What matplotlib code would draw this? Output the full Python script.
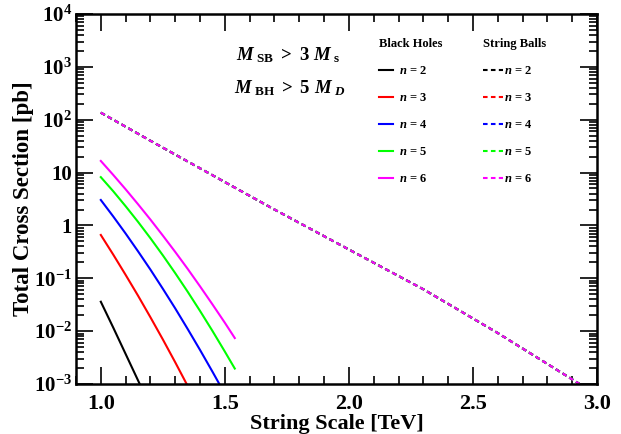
import numpy as np
import matplotlib
matplotlib.use("Agg")
import matplotlib.pyplot as plt
from matplotlib.ticker import FixedLocator, MultipleLocator, LogLocator, NullFormatter

# string scale [TeV] and cross sections [pb]
bh_x = {
    2: [1.0, 1.05, 1.1, 1.15, 1.2],
    3: [1.0, 1.05, 1.1, 1.15, 1.2, 1.25, 1.3, 1.35],
    4: [1.0, 1.05, 1.1, 1.15, 1.2, 1.25, 1.3, 1.35, 1.4, 1.45, 1.5],
    5: [1.0, 1.05, 1.1, 1.15, 1.2, 1.25, 1.3, 1.35, 1.4, 1.45, 1.5, 1.54],
    6: [1.0, 1.05, 1.1, 1.15, 1.2, 1.25, 1.3, 1.35, 1.4, 1.45, 1.5, 1.54],
}
bh_y = {
    2: [0.036, 0.0117, 0.0037, 0.00117, 0.00037],
    3: [0.66, 0.281, 0.116, 0.0469, 0.0183, 0.00697, 0.00257, 0.00092],
    4: [3.03, 1.48, 0.703, 0.324, 0.146, 0.0634, 0.0269, 0.0110, 0.0044,
        0.00171, 0.00065],
    5: [8.2, 4.44, 2.31, 1.17, 0.573, 0.272, 0.125, 0.0558, 0.0241, 0.0101,
        0.0041, 0.00196],
    6: [16.6, 9.04, 4.83, 2.52, 1.29, 0.643, 0.315, 0.151, 0.0703, 0.0321,
        0.0144, 0.0074],
}
sb_x = [1.0, 1.2, 1.5, 1.7, 2.0, 2.3, 2.6, 2.93]
sb_y = [136, 40, 6.6, 2.0, 0.35, 0.062, 0.0092, 0.001]

n_values = [2, 3, 4, 5, 6]
colors = {2: "black", 3: "#ff0000", 4: "#0000ff", 5: "#00ff00", 6: "#ff00ff"}

ytick_vals = [1e-3, 1e-2, 1e-1, 1, 10, 1e2, 1e3, 1e4]
ytick_labels = [r"$10^{-3}$", r"$10^{-2}$", r"$10^{-1}$", "1", "10",
                r"$10^{2}$", r"$10^{3}$", r"$10^{4}$"]
xtick_vals = [1.0, 1.5, 2.0, 2.5, 3.0]

plt.rcParams["font.family"] = ["Liberation Serif", "DejaVu Serif"]
plt.rcParams["font.weight"] = "bold"
plt.rcParams["mathtext.fontset"] = "custom"
plt.rcParams["mathtext.rm"] = "Liberation Serif:bold"
plt.rcParams["mathtext.bf"] = "Liberation Serif:bold"
plt.rcParams["mathtext.it"] = "Liberation Serif:italic:bold"
plt.rcParams["mathtext.default"] = "rm"

fig = plt.figure(figsize=(6.21, 4.34), dpi=100)
ax = fig.add_axes([76 / 621, 50 / 434, 521 / 621, 370 / 434])

bh_lines = []
for n in n_values:
    line, = ax.plot(bh_x[n], bh_y[n], color=colors[n], lw=1.5)
    bh_lines.append(line)

sb_lines = []
for n in n_values:
    line, = ax.plot(sb_x, sb_y, color=colors[n], lw=1.5, dashes=(2.2, 1.6))
    sb_lines.append(line)

ax.set_yscale("log")
ax.set_xlim(0.9, 3.0)
ax.set_ylim(1e-3, 1e4)

ax.yaxis.set_major_locator(FixedLocator(ytick_vals))
ax.set_yticklabels(ytick_labels)
ax.yaxis.set_minor_locator(LogLocator(base=10, subs=np.arange(2, 10), numticks=20))
ax.yaxis.set_minor_formatter(NullFormatter())
ax.xaxis.set_major_locator(FixedLocator(xtick_vals))
ax.set_xticklabels(["%.1f" % v for v in xtick_vals])
ax.xaxis.set_minor_locator(MultipleLocator(0.1))

ax.tick_params(which="both", direction="in", top=True, right=True,
               labelsize=16, width=1.2)
ax.tick_params(axis="y", labelsize=15, pad=3)
ax.tick_params(which="major", length=12)
ax.tick_params(which="minor", length=6)
ax.tick_params(axis="x", pad=7)
for s in ax.spines.values():
    s.set_linewidth(1.8)

ax.set_xlabel("String Scale [TeV]", fontsize=16, fontweight="bold", labelpad=0)
ax.set_ylabel("Total Cross Section [pb]", fontsize=16.5, fontweight="bold")
ax.yaxis.set_label_coords(-42 / 521, 0.5)

ax.text(0.407, 0.889, r"$\it{M}_{\rm\ SB} \ >\ 3\ \it{M}_{\rm\ s}$", transform=ax.transAxes,
        ha="center", va="center", fontsize=13.5)
ax.text(0.41, 0.80, r"$\it{M}_{\rm\ BH} \ >\ 5\ \it{M}_{\it{\ D}}$", transform=ax.transAxes,
        ha="center", va="center", fontsize=13.5)

labels = [r"$\it{n}$ = %d" % n for n in n_values]
leg1 = ax.legend(bh_lines, labels, title="Black Holes", loc="upper left",
                 bbox_to_anchor=(0.56, 0.966), frameon=False, fontsize=9,
                 title_fontproperties={"size": 9, "weight": "bold"},
                 handlelength=1.1, handletextpad=0.5, labelspacing=1.2,
                 alignment="left")
leg1._legend_box.sep = 11
ax.add_artist(leg1)
leg2 = ax.legend(sb_lines, labels, title="String Balls", loc="upper left",
                 bbox_to_anchor=(0.76, 0.966), frameon=False, fontsize=9,
                 title_fontproperties={"size": 9, "weight": "bold"},
                 handlelength=1.6, handletextpad=0.1, labelspacing=1.2,
                 alignment="left")
leg2._legend_box.sep = 11

fig.savefig("out.png", dpi=100)
